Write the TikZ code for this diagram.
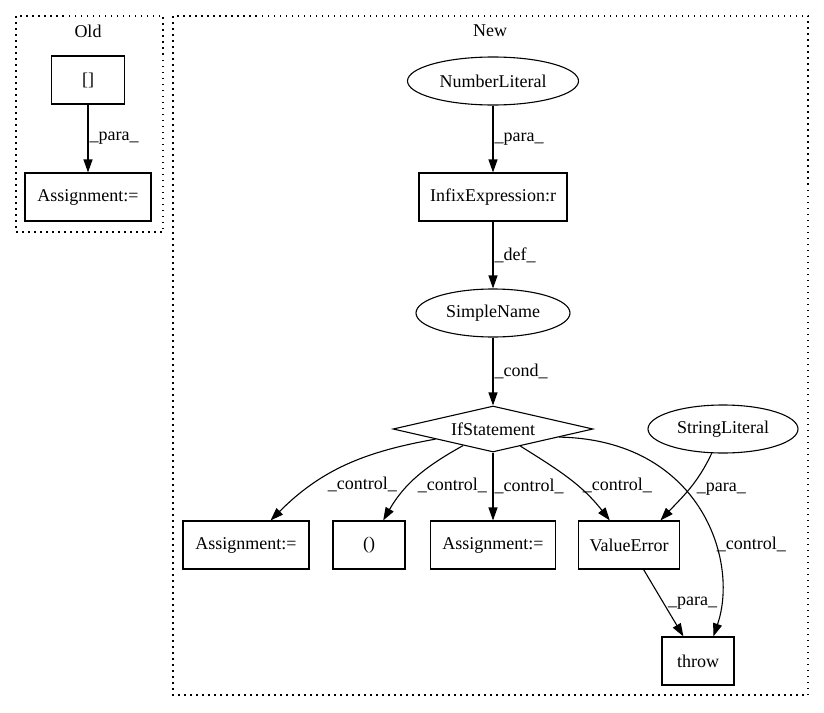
\documentclass[tikz,border=0pt]{standalone}
\usepackage{fontspec}
\setmainfont{Liberation Serif}
\usetikzlibrary{arrows.meta}
\usetikzlibrary{shapes.geometric}
\tikzset{box/.style={draw, rectangle, minimum height=48pt, inner sep=2pt},
  oval/.style={draw, ellipse, minimum height=48pt, inner sep=1pt},
  cond/.style={draw, diamond, aspect=4, inner sep=0pt, minimum width=200pt, minimum height=46pt},
  edge/.style={-{Triangle[length=13pt,width=9pt]}},
  lbl/.style={inner sep=1pt},
  cluster/.style={dash pattern=on 1.5pt off 4.5pt}}

\begin{document}
\begin{tikzpicture}[x=1pt, y=1pt, line width=1.1pt, font=\fontsize{18}{20}\selectfont]
		\useasboundingbox (0,0) rectangle (824,-712);
		\draw[cluster] (16,-16) rectangle (163,-232);
		\draw[cluster] (173,-16) rectangle (808,-695);
		\node (oldlbl) at (88,-31) {Old};
		\node (newlbl) at (490,-31) {New};
		\node[box, minimum width=73pt] (brk) at (88,-80) {[]};
		\node[box, minimum width=126pt] (asg0) at (88,-197) {Assignment:=};
		\node[oval, minimum width=171pt] (num) at (493,-81) {NumberLiteral};
		\node[box, minimum width=148pt] (infix) at (493,-197) {InfixExpression:r};
		\node[oval, minimum width=154pt] (sn) at (493,-313) {SimpleName};
		\node[cond] (ifs) at (493,-429) {IfStatement};
		\node[oval, minimum width=150pt] (strl) at (723,-429) {StringLiteral};
		\node[box, minimum width=126pt] (asg1) at (246,-545) {Assignment:=};
		\node[box, minimum width=72pt] (par) at (369,-545) {()};
		\node[box, minimum width=125pt] (asg2) at (493,-545) {Assignment:=};
		\node[box, minimum width=101pt] (verr) at (629,-545) {ValueError};
		\node[box, minimum width=72pt] (thr) at (698,-661) {throw};
		\draw[edge] (brk) -- node[lbl, right] {\_para\_} (asg0);
		\draw[edge] (num) -- node[lbl, right] {\_para\_} (infix);
		\draw[edge] (infix) -- node[lbl, right] {\_def\_} (sn);
		\draw[edge] (sn) -- node[lbl, right] {\_cond\_} (ifs);
		\draw[edge] (ifs.190) to[out=190, in=45] node[lbl, pos=.72, anchor=west, xshift=14pt] {\_control\_} (asg1.45);
		\draw[edge] (ifs.209) to[out=209, in=60] node[lbl, pos=.62, anchor=west, xshift=8pt] {\_control\_} (par.60);
		\draw[edge] (ifs) -- node[lbl, right] {\_control\_} (asg2);
		\draw[edge] (ifs.328) to[out=328, in=128] node[lbl, pos=.6, anchor=west, xshift=4pt] {\_control\_} (verr.128);
		\draw[edge] (strl.245) to[out=245, in=47] node[lbl, pos=.5, anchor=west, xshift=6pt] {\_para\_} (verr.38);
		\draw[edge] (ifs.353) to[out=-1, in=71, out looseness=1.43, in looseness=.82] node[lbl, pos=.64, anchor=west, xshift=1pt] {\_control\_} (thr.58);
		\draw[edge] (verr) -- node[lbl, midway, anchor=west, xshift=3pt] {\_para\_} (thr);
		\end{tikzpicture}
\end{document}
